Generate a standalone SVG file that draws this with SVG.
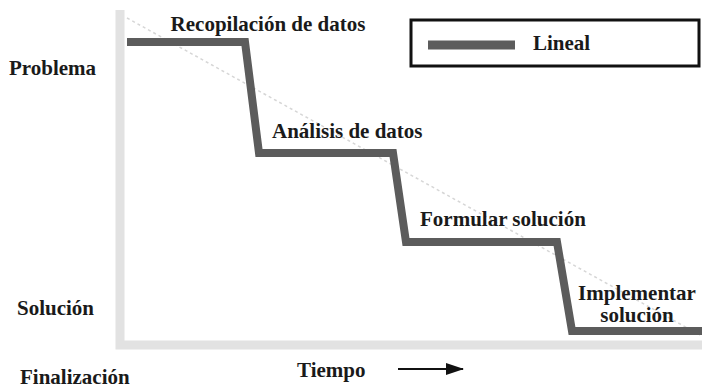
<svg xmlns="http://www.w3.org/2000/svg" width="702" height="391" viewBox="0 0 702 391">
<defs>
<style>
.t{font-family:'Liberation Serif','Times New Roman',Times,serif;font-weight:700;font-size:21px;fill:#1a1a1a}
.axis{stroke:#e2e2e2;stroke-width:9;fill:none}
.step{stroke:#5c5c5c;stroke-width:8;fill:none;stroke-linejoin:miter}
</style>
<marker id="ah" markerWidth="18" markerHeight="14" refX="17" refY="7" orient="auto" markerUnits="userSpaceOnUse" viewBox="0 0 18 14">
<path d="M0,1 L18,7 L0,13 z" fill="#111"/>
</marker>
</defs>
<rect width="702" height="391" fill="#fff"/>
<g id="axes">
<path class="axis" d="M120,10 V345 H702"/>
</g>
<g id="connectors">
<line x1="127" y1="18" x2="700" y2="335" stroke="#d6d6d6" stroke-width="1.5" stroke-dasharray="3,3"/>
<path class="step" d="M127,42 H245 L259,153 H393 L406,242 H557 L572,331 H702"/>
<line x1="398" y1="369" x2="463" y2="369" stroke="#111" stroke-width="2" marker-end="url(#ah)"/>
</g>
<g id="legend">
<rect x="411" y="20" width="288" height="46" fill="#fff" stroke="#111" stroke-width="3"/>
<line x1="428" y1="45" x2="515" y2="45" stroke="#5c5c5c" stroke-width="9"/>
<text class="t" x="533" y="50">Lineal</text>
</g>
<g id="recopilacion"><text class="t" x="268" y="31" text-anchor="middle">Recopilación de datos</text></g>
<g id="analisis"><text class="t" x="272" y="138">Análisis de datos</text></g>
<g id="formular"><text class="t" x="420" y="226">Formular solución</text></g>
<g id="implementar"><text class="t" x="637" y="300" text-anchor="middle">Implementar</text><text class="t" x="637" y="322" text-anchor="middle">solución</text></g>
<g id="labels">
<text class="t" x="9" y="75">Problema</text>
<text class="t" x="17" y="315">Solución</text>
<text class="t" x="20" y="384">Finalización</text>
<text class="t" x="297" y="377">Tiempo</text>
</g>
</svg>
